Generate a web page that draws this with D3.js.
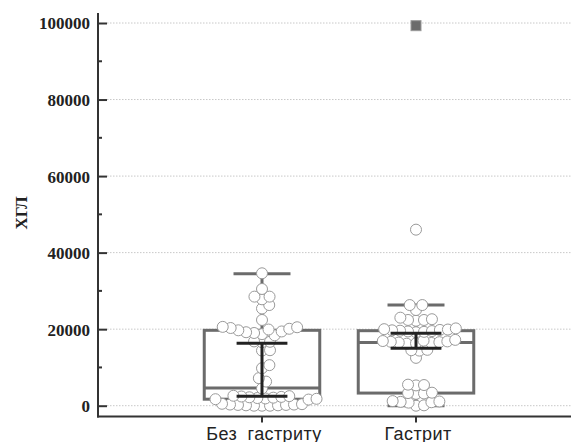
<!DOCTYPE html>
<html>
<head>
<meta charset="utf-8">
<script src="https://cdn.jsdelivr.net/npm/d3@7"></script>
<style>
  body { margin: 0; background: #fff; }
  svg { display: block; }
  .serif { font-family: "Liberation Serif", "DejaVu Serif", "Times New Roman", serif; font-weight: bold; }
  .sans { font-family: "Liberation Sans", Arial, sans-serif; }
</style>
</head>
<body>
<svg id="chart" width="571" height="442"></svg>
<script>
// categories and values
const categories = ["Без гастриту", "Гастрит"];
const yTicks = [0, 20000, 40000, 60000, 80000, 100000];
const yMinorTicks = [10000, 30000, 50000, 70000, 90000];

const noGastritis = [34600, 30500, 28500, 28500, 27800, 26300, 25400, 22400, 20600,
  20500, 20300, 20100, 19900, 19700, 19400, 19200, 19000, 18700, 18400,
  16700, 16600, 16800, 14500, 14400, 10600, 9800, 7200, 6300, 4500,
  2600, 2500, 2400, 2300, 2200, 2100, 2000, 1900, 1800, 1700, 1600,
  500, 400, 300, 300, 200, 200, 100, 100, 0, 0, 0];
const gastritis = [46000, 26300, 26300, 25000, 23000, 22600, 22400, 22400, 22200,
  20200, 20000, 19900, 19800, 19700, 19600, 19500, 19400, 19300, 19200,
  17200, 17000, 16900, 16800, 16700, 16600, 16500, 16400, 16300, 16200,
  14600, 14500, 14400, 12500, 5500, 5400, 5300, 3400, 3300, 3200, 3100,
  1200, 1100, 1000, 900, 800, 100, 0];
const outliers = [[], [99300]];

// box plot stats
const q1 = [1700, 3300];
const median = [4600, 16500];
const q3 = [19700, 19600];
const whiskerLow = [0, 0];
const whiskerHigh = [34500, 26300];
// black bars
const barLow = [2500, 15000];
const barHigh = [16300, 18900];

const groups = [noGastritis, gastritis];

const svg = d3.select("#chart");
const left = 98, bottom = 416.5;

const y = d3.scaleLinear().domain([0, 100000]).range([405.7, 23]);
const x = d3.scalePoint().domain(categories).range([108, 570]).padding(1);
const step = x.step();

// grid lines (dotted)
svg.append("g")
  .selectAll("line")
  .data(yTicks)
  .join("line")
  .attr("x1", left + 9).attr("x2", 571)
  .attr("y1", d => y(d)).attr("y2", d => y(d))
  .attr("stroke", "#c8c8c8")
  .attr("stroke-width", 1)
  .attr("stroke-dasharray", "1.5,1.5");

// y axis
const yAxis = svg.append("g")
  .attr("transform", "translate(" + left + ",0)")
  .call(d3.axisRight(y).tickValues(yTicks).tickSize(9).tickFormat(d3.format("d")));
yAxis.attr("font-family", null).attr("font-size", null);
yAxis.select(".domain").remove();
yAxis.selectAll(".tick line").attr("stroke", "#333").attr("stroke-width", 2);
yAxis.selectAll(".tick text")
  .attr("class", "serif")
  .attr("x", -8)
  .attr("text-anchor", "end")
  .attr("dy", "0.35em")
  .style("font-size", "17px")
  .attr("fill", "#222");

svg.append("g")
  .selectAll("line")
  .data(yMinorTicks)
  .join("line")
  .attr("x1", left).attr("x2", left + 4)
  .attr("y1", d => y(d)).attr("y2", d => y(d))
  .attr("stroke", "#333").attr("stroke-width", 2);

svg.append("line")
  .attr("x1", left).attr("x2", left)
  .attr("y1", 13).attr("y2", bottom + 1)
  .attr("stroke", "#333").attr("stroke-width", 2);

// x axis
svg.append("line")
  .attr("x1", left - 1).attr("x2", 571)
  .attr("y1", bottom).attr("y2", bottom)
  .attr("stroke", "#333").attr("stroke-width", 2);

svg.append("g")
  .selectAll("line")
  .data(categories)
  .join("line")
  .attr("x1", d => x(d)).attr("x2", d => x(d))
  .attr("y1", bottom).attr("y2", bottom + 6)
  .attr("stroke", "#333").attr("stroke-width", 2);

svg.append("g")
  .selectAll("text")
  .data(categories)
  .join("text")
  .attr("class", "sans")
  .attr("x", d => x(d) + 2)
  .attr("y", 440)
  .attr("text-anchor", "middle")
  .style("font-size", "18px")
  .style("letter-spacing", "0.4px")
  .style("word-spacing", "5px")
  .attr("fill", "#222")
  .text(d => d);

svg.append("text")
  .attr("class", "serif")
  .attr("transform", "translate(27,213) rotate(-90)")
  .attr("text-anchor", "middle")
  .style("font-size", "17px")
  .attr("fill", "#222")
  .text("ХГЛ");

// boxes and whiskers
const boxW = step * 0.75, capW = step * 0.37, barW = step * 0.33;
const boxColor = "#6b6b6b";
const bg = svg.append("g");
categories.forEach((c, i) => {
  const cx = x(c);
  bg.append("line")
    .attr("x1", cx).attr("x2", cx)
    .attr("y1", y(whiskerHigh[i])).attr("y2", y(q3[i]))
    .attr("stroke", boxColor).attr("stroke-width", 3);
  bg.append("line")
    .attr("x1", cx).attr("x2", cx)
    .attr("y1", y(q1[i])).attr("y2", y(whiskerLow[i]))
    .attr("stroke", boxColor).attr("stroke-width", 3);
  [whiskerHigh[i], whiskerLow[i]].forEach(v => {
    bg.append("line")
      .attr("x1", cx - capW / 2).attr("x2", cx + capW / 2)
      .attr("y1", y(v)).attr("y2", y(v))
      .attr("stroke", boxColor).attr("stroke-width", 3);
  });
  bg.append("rect")
    .attr("x", cx - boxW / 2).attr("width", boxW)
    .attr("y", y(q3[i])).attr("height", y(q1[i]) - y(q3[i]))
    .attr("fill", "none")
    .attr("stroke", boxColor).attr("stroke-width", 3);
  bg.append("line")
    .attr("x1", cx - boxW / 2).attr("x2", cx + boxW / 2)
    .attr("y1", y(median[i])).attr("y2", y(median[i]))
    .attr("stroke", boxColor).attr("stroke-width", 3);
});

// beeswarm layout of points, overlap allowed (min centre distance < diameter)
const r = 5.5, minDist = 8;
function swarm(values, cx) {
  const placed = [];
  const sorted = values.slice().sort((a, b) => a - b);
  sorted.forEach(v => {
    const py = y(v);
    const cands = [0];
    placed.forEach(p => {
      const dy = Math.abs(p.y - py);
      if (dy < minDist) {
        const dx = Math.sqrt(minDist * minDist - dy * dy);
        cands.push(p.dx + dx + 0.01, p.dx - dx - 0.01);
      }
    });
    cands.sort((a, b) => Math.abs(a) - Math.abs(b));
    let best = 0;
    for (const c of cands) {
      const ok = placed.every(p => (p.dx - c) ** 2 + (p.y - py) ** 2 >= minDist * minDist - 0.5);
      if (ok) { best = c; break; }
    }
    placed.push({ v: v, y: py, dx: best });
  });
  return placed.map(p => ({ x: cx + p.dx, y: p.y }));
}

const pg = svg.append("g");
categories.forEach((c, i) => {
  pg.append("g")
    .selectAll("circle")
    .data(swarm(groups[i], x(c)))
    .join("circle")
    .attr("cx", d => d.x)
    .attr("cy", d => d.y)
    .attr("r", r)
    .attr("fill", "#fff")
    .attr("stroke", "#9a9a9a")
    .attr("stroke-width", 1);
  pg.append("g")
    .selectAll("rect")
    .data(outliers[i])
    .join("rect")
    .attr("x", x(c) - 5).attr("y", d => y(d) - 5)
    .attr("width", 10).attr("height", 10)
    .attr("fill", "#6b6b6b")
    .attr("stroke", "#999").attr("stroke-width", 1);
});

// black bars on top
const fg = svg.append("g");
categories.forEach((c, i) => {
  const cx = x(c);
  fg.append("line")
    .attr("x1", cx).attr("x2", cx)
    .attr("y1", y(barHigh[i])).attr("y2", y(barLow[i]))
    .attr("stroke", "#222").attr("stroke-width", 3);
  [barHigh[i], barLow[i]].forEach(v => {
    fg.append("line")
      .attr("x1", cx - barW / 2).attr("x2", cx + barW / 2)
      .attr("y1", y(v)).attr("y2", y(v))
      .attr("stroke", "#222").attr("stroke-width", 3);
  });
});
</script>
</body>
</html>
